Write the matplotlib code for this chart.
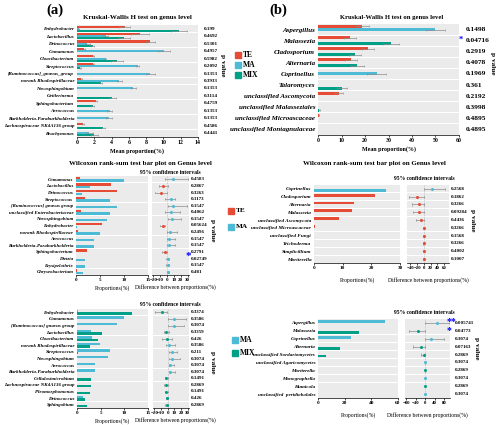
import matplotlib
matplotlib.use('Agg')
import matplotlib.pyplot as plt
from matplotlib.patches import Rectangle
import matplotlib.transforms as mtrans

plt.rcParams['font.family'] = ['Liberation Serif', 'DejaVu Serif']
plt.rcParams['font.weight'] = 'bold'

TE_C = '#E64B35'
MA_C = '#4DBBD5'
MIX_C = '#00A087'
BAND = '#EBEBEB'
ERR = '#8C8C8C'

# ---------------- data ----------------
# (a) Kruskal-Wallis
ka_genus = ["Enhydrobacter", "Lactobacillus", "Deinococcus", "Comamonas", "Cloacibacterium",
            "Streptococcus", "[Ruminococcus]_gnavus_group", "norank Rhodospirillaceae",
            "Novosphingobium", "Geitlerinema", "Sphingobacterium", "Aerococcus",
            "Burkholderia-Paraburkholderia", "Lachnospiraceae NK4A136 group", "Brachymonas"]
ka_TE = [5.5, 7.3, 8.5, 0.8, 1.9, 1.9, 0, 0.5, 0, 0, 2.2, 0, 0, 0.7, 0]
ka_MA = [0.2, 3.3, 1.2, 10.1, 3.3, 7.0, 8.5, 4.9, 6.5, 0, 0, 3.8, 3.7, 0, 1.4]
ka_MIX = [11.8, 5.4, 1.8, 0, 4.6, 0.4, 0, 2.8, 0, 4.1, 1.8, 0, 0, 3.0, 2.0]
ka_TE_err = [0.6, 1.0, 0.5, 0.1, 0.1, 0.1, 0, 0.05, 0, 0, 0.1, 0, 0, 0.1, 0]
ka_MA_err = [0.05, 0.3, 0.3, 0.7, 0.1, 0.2, 0.5, 0.3, 0.3, 0, 0, 0.3, 0.3, 0, 0.4]
ka_MIX_err = [0.9, 0.7, 0.2, 0, 0.7, 0.05, 0, 0.1, 0, 0.4, 0.2, 0, 0, 0.2, 0.4]
ka_p = ["0.199", "0.4692", "0.5301", "0.4957", "0.5982", "0.2092", "0.1353", "0.3933",
        "0.1353", "0.3114", "0.4759", "0.1353", "0.1353", "0.4586", "0.4441"]

# (b) Kruskal-Wallis
kb_genus = ["Aspergillus", "Malassezia", "Cladosporium", "Alternaria", "Coprinellus",
            "Talaromyces", "unclassified Ascomycota", "unclassified Malasseziales",
            "unclassified Microascaceae", "unclassified Montagnulaceae"]
kb_TE = [18.8, 13.5, 21.3, 14.0, 0, 0.2, 8.8, 0, 0.5, 0.1]
kb_MA = [50.0, 0, 0, 0, 25.0, 0, 0, 0, 0, 0]
kb_MIX = [0, 31.0, 15.8, 16.5, 0, 10.3, 0, 0.6, 0, 0]
kb_TE_err = [2.7, 2.5, 2.7, 2.7, 0, 0, 1.7, 0, 0.1, 0]
kb_MA_err = [4.0, 0, 0, 0, 4.0, 0, 0, 0, 0, 0]
kb_MIX_err = [0, 3.5, 2.7, 3.0, 0, 2.2, 0, 0.1, 0, 0]
kb_p = ["0.1498", "0.04716", "0.2919", "0.4078", "0.1969", "0.361", "0.2192",
        "0.3998", "0.4895", "0.4895"]

# (a) Wilcoxon TE vs MA
wa_genus = ["Comamonas", "Lactobacillus", "Deinococcus", "Streptococcus",
            "[Ruminococcus] gnavus group", "unclassified Enterobacteriaceae", "Novosphingobium",
            "Enhydrobacter", "norank Rhodospirillaceae", "Aerococcus",
            "Burkholderia-Paraburkholderia", "Sphingobacterium", "Dietzia", "Erysipelothrix",
            "Chryseobacterium"]
wa_TE = [0.8, 7.3, 8.5, 1.9, 0, 1.0, 0, 5.5, 0.4, 0, 0, 2.2, 0, 0, 0.2]
wa_MA = [10.0, 3.0, 1.2, 7.0, 8.5, 7.0, 6.5, 0.2, 4.9, 3.8, 3.7, 0, 1.9, 1.8, 1.4]
wa_diff = [9, -6.5, -9, 5, 9, 5.5, 6.5, -6.5, 4.5, 3.5, 3.5, -3, 1, 1, 0.8]
wa_lo = [-3, -12.5, -17, -3, 1, -3, 1, -11, -0.5, 0, 0, -7, -1, -1, -0.5]
wa_hi = [31, 1, 0, 11, 29, 19.5, 21, -2.5, 14.5, 12, 12, 0, 3.5, 3.5, 2.5]
wa_p = ["0.4583", "0.2867", "0.3263", "0.1173", "0.1547", "0.4062", "0.1547", "0.05624",
        "0.2496", "0.1547", "0.1547", "0.2791", "0.02749", "0.1547", "0.481"]

# (a) Wilcoxon MA vs MIX
wc_genus = ["Enhydrobacter", "Comamonas", "[Ruminococcus] gnavus group", "Lactobacillus",
            "Cloacibacterium", "norank Rhodospirillaceae", "Streptococcus", "Novosphingobium",
            "Aerococcus", "Burkholderia-Paraburkholderia", "Cellulosimicrobium",
            "Lachnospiraceae NK4A136 group", "Pleomorphomonas", "Deinococcus", "Sphingobium"]
wc_MA = [0.2, 10.0, 8.5, 3.0, 3.2, 4.9, 7.0, 6.5, 3.8, 3.7, 0, 0, 0, 1.2, 0]
wc_MIX = [11.7, 0, 0, 5.3, 4.5, 2.7, 0.3, 0, 0, 0, 3.0, 2.9, 2.8, 1.7, 2.1]
wc_diff = [-9, 10, 10, -2.5, -1.5, 2.5, 6.5, 6.5, 4, 3.5, -2, -2, -2, -0.5, -1.5]
wc_lo = [-19, 1, 1, -6, -8.5, -2, 1.5, 1.5, 1.5, 1.5, -4, -5, -4.5, -2, -3.5]
wc_hi = [-1, 28, 24, 1.5, 6.5, 11.5, 14, 19, 10, 11.5, 0, 1, 0, 1, 0.5]
wc_p = ["0.3374", "0.3586", "0.3074", "0.3359", "0.426", "0.3586", "0.211", "0.3074",
        "0.3074", "0.3074", "0.1491", "0.2869", "0.1491", "0.426", "0.2869"]

# (b) Wilcoxon TE vs MA
wb_genus = ["Coprinellus", "Cladosporium", "Alternaria", "Malassezia", "unclassified Ascomycota",
            "unclassified Microascaceae", "unclassified Fungi", "Trichoderma", "Simplicillium",
            "Mortierella"]
wb_TE = [0, 21.3, 14.0, 13.3, 8.8, 0.4, 0.15, 0.1, 0.1, 0.1]
wb_MA = [25.0, 0, 0, 0, 0, 0, 0, 0, 0, 0]
wb_diff = [25, -21, -14, -13, -9, -0.4, -0.2, -0.1, -0.1, -0.1]
wb_lo = [0, -45, -36, -33, -24, -1.5, -1, -1, -1, -1]
wb_hi = [64, 0, 0, 1, 0, 0.5, 0.5, 0.5, 0.5, 0.5]
wb_p = ["0.2568", "0.1862", "0.3266", "0.09284", "0.4436", "0.3266", "0.1568", "0.3266",
        "0.4002", "0.1007"]

# (b) Wilcoxon MA vs MIX
wd_genus = ["Aspergillus", "Malassezia", "Coprinellus", "Alternaria",
            "unclassified Sordariomycetes", "unclassified Agaricomycetes", "Mortierella",
            "Monographella", "Humicola", "unclassified  peridiobolales"]
wd_MA = [50.0, 0, 25.0, 0, 0, 0.1, 0, 0.1, 0, 0.1]
wd_MIX = [0, 31.0, 0, 16.5, 6.0, 0, 0.1, 0, 0.1, 0]
wd_diff = [50, -31, 25, -16.5, -6, 0.3, -0.3, 0.3, -0.3, 0.3]
wd_lo = [0, -70, 0, -50, -17, -1, -1.5, -1, -1.5, -1]
wd_hi = [100, 0, 79, 0, 0, 1.5, 1, 1.5, 1, 1.5]
wd_p = ["0.005741", "0.04773", "0.3074", "0.07163", "0.2869", "0.3074", "0.2869", "0.3074",
        "0.2869", "0.3074"]

# ---------------- figure ----------------
W, H = 500, 425
fig = plt.figure(figsize=(5, 4.25), dpi=100)


def pax(x0, y0, x1, y1):
    return fig.add_axes([x0 / W, 1 - y1 / H, (x1 - x0) / W, (y1 - y0) / H])


def ftext(x, y, s, **kw):
    fig.text(x / W, 1 - y / H, s, **kw)


def base(ax, n, labels=None, lsize=4.5, tsize=4.2):
    ax.set_ylim(n - 0.5, -0.5)
    for i in range(n):
        ax.axhspan(i - 0.46, i + 0.46, color=BAND, lw=0, zorder=0)
    for s in ['top', 'right', 'left']:
        ax.spines[s].set_visible(False)
    ax.spines['bottom'].set_linewidth(0.5)
    ax.tick_params(axis='x', length=1.5, width=0.5, pad=1, labelsize=tsize)
    ax.tick_params(axis='y', length=0, pad=2)
    if labels is not None:
        ax.set_yticks(range(n))
        ax.set_yticklabels(labels, fontsize=lsize, style='italic', fontweight='bold')
    else:
        ax.set_yticks([])


def pvals(ax, pv, x=1.03, size=4.0):
    tr = mtrans.blended_transform_factory(ax.transAxes, ax.transData)
    for i, p in enumerate(pv):
        ax.text(x, i, p, transform=tr, fontsize=size, va='center', ha='left', fontweight='bold')


def kruskal(ax, te, ma, mix, te_e, ma_e, mix_e, h):
    n = len(te)
    for vals, errs, off, c in [(te, te_e, -h, TE_C), (ma, ma_e, 0, MA_C), (mix, mix_e, h, MIX_C)]:
        ys = [i + off for i in range(n)]
        ax.barh(ys, vals, height=h * 0.95, color=c, zorder=2, lw=0)
        for y, v, e in zip(ys, vals, errs):
            if e > 0:
                ax.errorbar(v, y, xerr=e, color=ERR, lw=0.5, capsize=0.8, capthick=0.4, zorder=3)


def wbars(ax, a, b, ca, cb, h=0.36):
    n = len(a)
    ax.barh([i - h / 2 - 0.01 for i in range(n)], a, height=h, color=ca, lw=0, zorder=2)
    ax.barh([i + h / 2 + 0.01 for i in range(n)], b, height=h, color=cb, lw=0, zorder=2)


def ci(ax, diff, lo, hi, cneg, cpos, ms=2.2):
    for i, (d, l, h) in enumerate(zip(diff, lo, hi)):
        c = cpos if d > 0 else cneg
        ax.plot([l, h], [i, i], color=ERR, lw=0.5, zorder=2)
        ax.plot([l, l], [i - 0.15, i + 0.15], color=ERR, lw=0.4, zorder=2)
        ax.plot([h, h], [i - 0.15, i + 0.15], color=ERR, lw=0.4, zorder=2)
        ax.plot(d, i, 'o', color=c, ms=ms, mew=0, zorder=3)
    ax.axvline(0, color='#BBBBBB', lw=0.4, ls='--', zorder=1)


def legend_items(x, ys, names, colors, size=6):
    for y, nm, c in zip(ys, names, colors):
        fig.add_artist(Rectangle((x / W, 1 - (y + 3) / H), 6 / W, 6 / H, color=c,
                                 transform=fig.transFigure))
        ftext(x + 8, y, nm, fontsize=size, va='center', ha='left', fontweight='bold')


# ---- top-left (a) Kruskal ----
ax1 = pax(77, 25, 198, 137)
base(ax1, 15, ka_genus, lsize=3.6)
kruskal(ax1, ka_TE, ka_MA, ka_MIX, ka_TE_err, ka_MA_err, ka_MIX_err, 0.29)
ax1.set_xlim(0, 14)
ax1.set_xticks(range(0, 15, 2))
pvals(ax1, ka_p, x=1.05, size=3.7)
ax1.set_xlabel('Mean proportion(%)', fontsize=4.3, labelpad=2, fontweight='bold')
ftext(137, 17, 'Kruskal-Wallis H test on genus level', fontsize=5.0, ha='center', va='center')
ftext(55, 10, '(a)', fontsize=10.5, ha='center', va='center')
ftext(222, 65, 'p value', fontsize=5.2, rotation=-90, ha='center', va='center')
legend_items(235, [55, 65, 75], ['TE', 'MA', 'MIX'], [TE_C, MA_C, MIX_C], size=5.5)

# ---- top-right (b) Kruskal ----
ax2 = pax(318, 24, 459, 135)
base(ax2, 10, kb_genus, lsize=5.0)
kruskal(ax2, kb_TE, kb_MA, kb_MIX, kb_TE_err, kb_MA_err, kb_MIX_err, 0.28)
ax2.set_xlim(0, 60)
ax2.set_xticks(range(0, 61, 10))
pvals(ax2, kb_p, x=1.045, size=5.3)
ax2.set_xlabel('Mean proportion(%)', fontsize=4.3, labelpad=2, fontweight='bold')
ftext(392, 17, 'Kruskal-Wallis H test on genus level', fontsize=4.8, ha='center', va='center')
ftext(278, 10, '(b)', fontsize=10.5, ha='center', va='center')
ftext(493, 63, 'p value', fontsize=5.2, rotation=-90, ha='center', va='center')
ftext(461, 40, '*', fontsize=6, color='blue', ha='center', va='center')

# ---- middle-left (a) Wilcoxon TE vs MA ----
ax3 = pax(76, 176, 148, 275)
base(ax3, 15, wa_genus, lsize=3.5, tsize=3.7)
wbars(ax3, wa_TE, wa_MA, TE_C, MA_C)
ax3.set_xlim(0, 15)
ax3.set_xticks([0, 5, 10, 15])
ax3.set_xlabel('Proportions(%)', fontsize=4.1, labelpad=2)
ax3c = pax(152, 176, 189, 275)
base(ax3c, 15, None, tsize=3.6)
ci(ax3c, wa_diff, wa_lo, wa_hi, TE_C, MA_C)
ax3c.set_xlim(-22, 32)
ax3c.set_xticks([-20, -10, 0, 10, 20, 30])
ax3c.set_xlabel('Difference between proportions(%)', fontsize=4.1, labelpad=2)
ax3c.xaxis.set_label_coords(0.62, -0.09)
pvals(ax3c, wa_p, x=1.06, size=3.6)
ftext(140, 163, 'Wilcoxon rank-sum test bar plot on Genus level', fontsize=5.0,
      ha='center', va='center')
ftext(170, 172, '95% confidence intervals', fontsize=4.1, ha='center', va='center')
ftext(213, 230, 'p value', fontsize=5.2, rotation=-90, ha='center', va='center')
ftext(188.5, 257, '*', fontsize=8, color='blue', ha='center', va='center')
legend_items(228, [211, 227], ['TE', 'MA'], [TE_C, MA_C], size=5.2)

# ---- middle-right (b) Wilcoxon TE vs MA ----
ax4 = pax(314, 185, 400, 263)
base(ax4, 10, wb_genus, lsize=3.8, tsize=3.8)
wbars(ax4, wb_TE, wb_MA, TE_C, MA_C)
ax4.set_xlim(0, 30)
ax4.set_xticks([0, 10, 20, 30])
ax4.set_xlabel('Proportions(%)', fontsize=4.1, labelpad=5)
ax4c = pax(407, 185, 449, 263)
base(ax4c, 10, None, tsize=3.5)
ci(ax4c, wb_diff, wb_lo, wb_hi, TE_C, MA_C)
ax4c.set_xlim(-50, 75)
ax4c.set_xticks([-40, -20, 0, 20, 40, 60])
ax4c.set_xlabel('Difference between proportions(%)', fontsize=4.1, labelpad=5)
pvals(ax4c, wb_p, x=1.05, size=3.6)
ftext(374, 163, 'Wilcoxon rank-sum test bar plot on Genus level', fontsize=5.0,
      ha='center', va='center')
ftext(424, 178, '95% confidence intervals', fontsize=4.1, ha='center', va='center')
ftext(472, 220, 'p value', fontsize=5.2, rotation=-90, ha='center', va='center')

# ---- bottom-left (a) Wilcoxon MA vs MIX ----
ax5 = pax(77, 309, 148, 408)
base(ax5, 15, wc_genus, lsize=3.6, tsize=3.7)
wbars(ax5, wc_MA, wc_MIX, MA_C, MIX_C)
ax5.set_xlim(0, 15)
ax5.set_xticks([0, 5, 10, 15])
ax5.set_xlabel('Proportions(%)', fontsize=4.1, labelpad=2)
ax5c = pax(153, 309, 189, 408)
base(ax5c, 15, None, tsize=3.6)
ci(ax5c, wc_diff, wc_lo, wc_hi, MIX_C, MA_C)
ax5c.set_xlim(-22, 32)
ax5c.set_xticks([-20, -10, 0, 10, 20, 30])
ax5c.set_xlabel('Difference between proportions(%)', fontsize=4.1, labelpad=2)
ax5c.xaxis.set_label_coords(0.62, -0.09)
pvals(ax5c, wc_p, x=1.06, size=3.6)
ftext(170, 304, '95% confidence intervals', fontsize=4.1, ha='center', va='center')
ftext(213, 362, 'p value', fontsize=5.2, rotation=-90, ha='center', va='center')
legend_items(232, [340, 353], ['MA', 'MIX'], [MA_C, MIX_C], size=5.5)

# ---- bottom-right (b) Wilcoxon MA vs MIX ----
ax6 = pax(318, 319, 398, 398)
base(ax6, 10, wd_genus, lsize=3.7, tsize=3.8)
wbars(ax6, wd_MA, wd_MIX, MA_C, MIX_C)
ax6.set_xlim(0, 60)
ax6.set_xticks([0, 20, 40, 60])
ax6.set_xlabel('Proportions(%)', fontsize=4.1, labelpad=5)
ax6c = pax(405, 319, 450, 398)
base(ax6c, 10, None, tsize=3.5)
ci(ax6c, wd_diff, wd_lo, wd_hi, MIX_C, MA_C)
ax6c.set_xlim(-85, 105)
ax6c.set_xticks([-80, -40, 0, 40, 80])
ax6c.set_xlabel('Difference between proportions(%)', fontsize=4.1, labelpad=5)
pvals(ax6c, wd_p, x=1.1, size=3.6)
ftext(424, 312, '95% confidence intervals', fontsize=4.1, ha='center', va='center')
ftext(477, 348, 'p value', fontsize=5.2, rotation=-90, ha='center', va='center')
ftext(451, 322, '**', fontsize=7, color='blue', ha='center', va='center')
ftext(449, 331, '*', fontsize=7, color='blue', ha='center', va='center')

fig.savefig('out.png', dpi=100, facecolor='white')
